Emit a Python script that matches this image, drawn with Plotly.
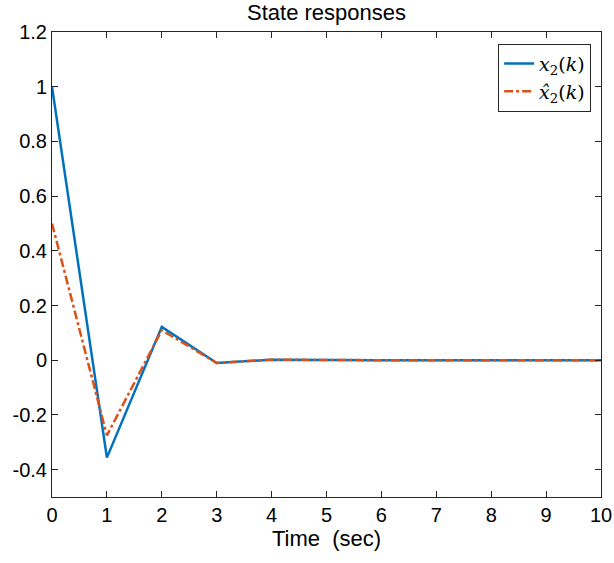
import plotly.graph_objects as go

k = list(range(0, 11))
x2 = [1.0, -0.356, 0.122, -0.01, 0.002, 0.0, 0.0, 0.0, 0.0, 0.0, 0.0]
x2_hat = [0.5, -0.275, 0.11, -0.01, 0.002, 0.0, 0.0, 0.0, 0.0, 0.0, 0.0]
y_ticks = [-0.4, -0.2, 0, 0.2, 0.4, 0.6, 0.8, 1, 1.2]
y_ticktext = ["-0.4", "-0.2", "0", "0.2", "0.4", "0.6", "0.8", "1", "1.2"]

font = "Liberation Sans, Arial, sans-serif"

fig = go.Figure()
fig.add_trace(go.Scatter(x=k, y=x2, mode="lines", name="<i>x</i><sub>2</sub>(<i>k</i>)",
                         line=dict(color="#0072BD", width=2.5)))
fig.add_trace(go.Scatter(x=k, y=x2_hat, mode="lines", name="<i>x̂</i><sub>2</sub>(<i>k</i>)",
                         line=dict(color="#D95319", width=2.5, dash="dashdot")))

axis_common = dict(showline=True, linecolor="#262626", linewidth=1, mirror="ticks",
                   ticks="inside", ticklen=6, tickcolor="#262626", showgrid=False,
                   zeroline=False, automargin=False,
                   tickfont=dict(family=font, size=20, color="#000"))

fig.update_layout(
    width=614, height=563,
    margin=dict(l=52, r=13, t=32, b=66),
    paper_bgcolor="white", plot_bgcolor="white",
    title=dict(text="State responses", xref="paper", x=0.5, xanchor="center",
               yref="container", y=0.992, yanchor="top",
               font=dict(family=font, size=22, color="#000")),
    xaxis=dict(range=[0, 10], tickmode="linear", tick0=0, dtick=1,
               title=dict(text="Time  (sec)", font=dict(family=font, size=22, color="#000"), standoff=0),
               **axis_common),
    yaxis=dict(range=[-0.5, 1.2], tickvals=y_ticks, ticktext=y_ticktext, **axis_common),
    legend=dict(x=0.982, y=0.975, xanchor="right", yanchor="top", bgcolor="white",
                bordercolor="#262626", borderwidth=1,
                font=dict(family="DejaVu Serif, serif", size=19, color="#000"),
                tracegroupgap=0),
    showlegend=True,
)

fig.write_html("out.html", config={"displayModeBar": False},
               post_script="document.body.style.margin='0px';document.body.style.padding='0px';")
